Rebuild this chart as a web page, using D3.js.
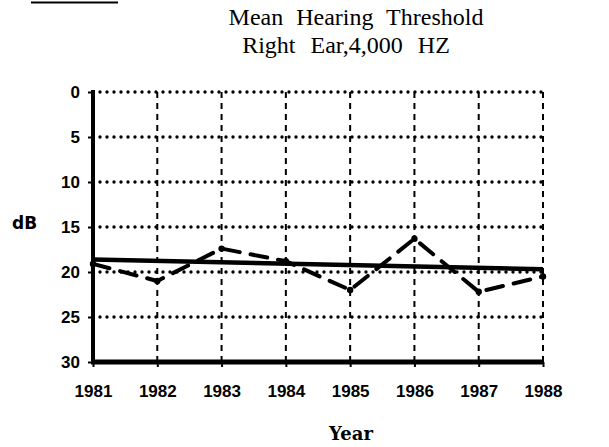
<!DOCTYPE html>
<html><head><meta charset="utf-8">
<script src="https://cdn.jsdelivr.net/npm/d3@7"></script>
<style>body{margin:0;background:#fff}svg{display:block}</style>
</head><body>
<svg id="chart" width="609" height="447"></svg>
<script>
const years = [1981, 1982, 1983, 1984, 1985, 1986, 1987, 1988];
const meanThreshold = [19.1, 21.0, 17.4, 18.8, 22.0, 16.3, 22.2, 20.5];
const trendYears = [1981, 1988];
const trendValues = [18.6, 19.7];
const yTicks = [0, 5, 10, 15, 20, 25, 30];
const titleLines = ["Mean Hearing Threshold", "Right Ear,4,000 HZ"];

const svg = d3.select("#chart");
const x = d3.scaleLinear().domain([1981, 1988]).range([93, 543]);
const y = d3.scaleLinear().domain([0, 30]).range([92, 362]);

// cut-off figure caption underline
svg.append("line").attr("x1", 31).attr("x2", 118).attr("y1", 2.5).attr("y2", 2.5)
  .attr("stroke", "#000").attr("stroke-width", 2);

// title
svg.selectAll("text.title").data(titleLines).join("text")
  .attr("class", "title")
  .attr("x", (d, i) => i === 0 ? 356 : 346).attr("y", (d, i) => 25 + i * 28)
  .attr("text-anchor", "middle")
  .attr("font-family", "'Liberation Serif','Times New Roman',serif")
  .attr("font-size", 24)
  .attr("word-spacing", (d, i) => i === 0 ? 7 : 9)
  .attr("fill", "#000")
  .text(d => d);

// horizontal dotted gridlines
svg.append("g").selectAll("line").data(yTicks.filter(t => t < 30)).join("line")
  .attr("x1", x(1981)).attr("x2", x(1988))
  .attr("y1", d => y(d)).attr("y2", d => y(d))
  .attr("stroke", "#000").attr("stroke-width", 3.4)
  .attr("stroke-linecap", "round").attr("stroke-dasharray", "0,7");

// vertical dashed gridlines
svg.append("g").selectAll("line").data(years.slice(1)).join("line")
  .attr("x1", d => x(d)).attr("x2", d => x(d))
  .attr("y1", y(0)).attr("y2", y(30))
  .attr("stroke", "#000").attr("stroke-width", 2)
  .attr("stroke-dasharray", "6,5");

// y axis
const yAxis = d3.axisLeft(y).tickValues(yTicks).tickSize(5).tickPadding(8).tickFormat(d3.format("d"));
const gy = svg.append("g").attr("transform", `translate(${x(1981)},0)`).call(yAxis);
gy.select(".domain").remove();
gy.selectAll(".tick line").attr("stroke", "#000").attr("stroke-width", 2);
gy.selectAll(".tick text")
  .attr("font-family", "'Liberation Sans Narrow','Arial Narrow',sans-serif")
  .attr("font-weight", "bold").attr("font-size", 17).attr("fill", "#000");
svg.append("line").attr("x1", x(1981)).attr("x2", x(1981)).attr("y1", y(0) - 2).attr("y2", y(30) + 2)
  .attr("stroke", "#000").attr("stroke-width", 4);

// x axis
const xAxis = d3.axisBottom(x).tickValues(years).tickSize(5).tickPadding(18).tickFormat(d3.format("d"));
const gx = svg.append("g").attr("transform", `translate(0,${y(30)})`).call(xAxis);
gx.select(".domain").remove();
gx.selectAll(".tick line").attr("stroke", "#000").attr("stroke-width", 2);
gx.selectAll(".tick text")
  .attr("font-family", "'Liberation Sans Narrow','Arial Narrow',sans-serif")
  .attr("font-weight", "bold").attr("font-size", 17).attr("fill", "#000");
svg.append("line").attr("x1", x(1981) - 2).attr("x2", x(1988)).attr("y1", y(30)).attr("y2", y(30))
  .attr("stroke", "#000").attr("stroke-width", 5);

// axis titles
svg.append("text").attr("x", 12).attr("y", 229)
  .attr("font-family", "'DejaVu Sans',sans-serif").attr("font-weight", "bold")
  .attr("font-size", 17).attr("fill", "#000").text("dB");
svg.append("text").attr("x", 351).attr("y", 440).attr("text-anchor", "middle")
  .attr("font-family", "'DejaVu Serif',serif").attr("font-weight", "bold")
  .attr("font-size", 18).attr("fill", "#000").text("Year");

// trend line (solid)
const trend = trendYears.map((d, i) => [d, trendValues[i]]);
svg.append("path").datum(trend)
  .attr("d", d3.line().x(d => x(d[0])).y(d => y(d[1])))
  .attr("fill", "none").attr("stroke", "#000").attr("stroke-width", 4.5);

// yearly mean (dashed)
const mean = years.map((d, i) => [d, meanThreshold[i]]);
svg.append("path").datum(mean)
  .attr("d", d3.line().x(d => x(d[0])).y(d => y(d[1])))
  .attr("fill", "none").attr("stroke", "#000").attr("stroke-width", 4)
  .attr("stroke-linecap", "round").attr("stroke-dasharray", "17,11");
svg.append("g").selectAll("circle").data(mean).join("circle")
  .attr("cx", d => x(d[0])).attr("cy", d => y(d[1])).attr("r", 3.2).attr("fill", "#000");
</script>
</body></html>
